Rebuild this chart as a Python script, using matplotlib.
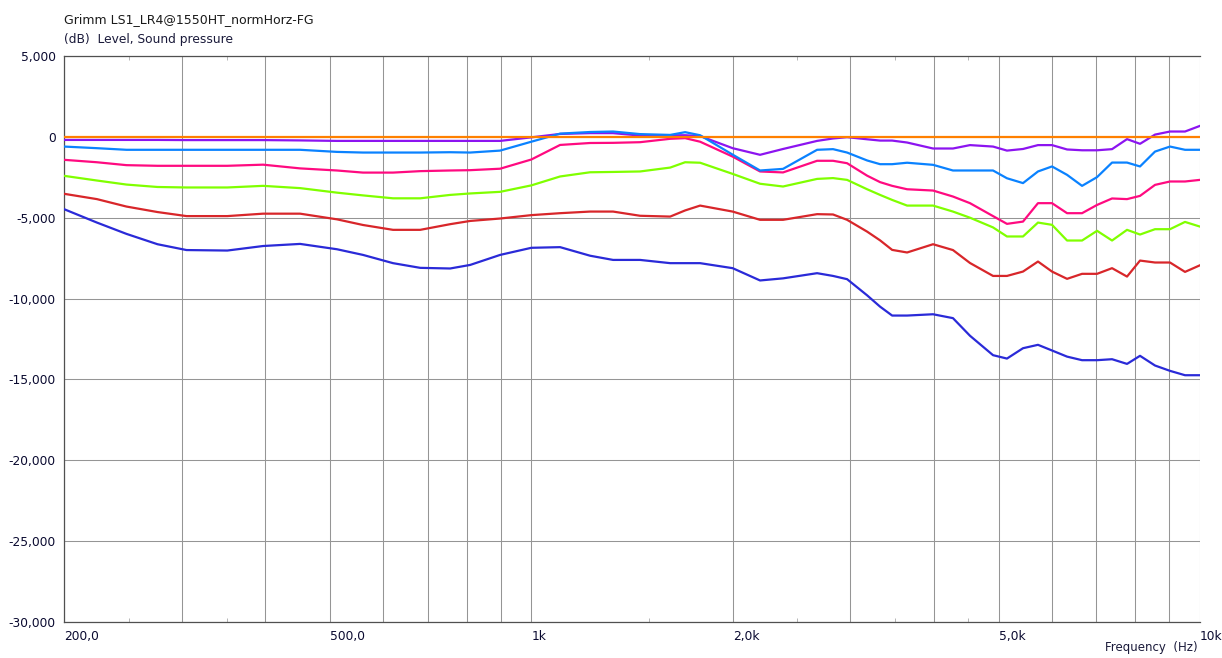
import numpy as np
import matplotlib
matplotlib.use("Agg")
import matplotlib.pyplot as plt
from matplotlib.ticker import FixedLocator, FuncFormatter, NullFormatter

# frequency grid (Hz)
freq = [200, 224, 248, 276, 305, 351, 397, 451, 512, 560,
        621, 682, 756, 810, 898, 1000, 1104, 1224, 1325, 1454,
        1613, 1698, 1788, 2000, 2198, 2379, 2675, 2826, 2966, 3178,
        3323, 3464, 3647, 3988, 4271, 4529, 4903, 5144, 5436, 5724,
        6007, 6327, 6662, 7015, 7387, 7778, 8134, 8565, 9019, 9497, 10000]

# levels in dB, one list per curve
orange = [0.0] * len(freq)
purple = [-0.19, -0.19, -0.19, -0.19, -0.2, -0.2, -0.2, -0.22, -0.25, -0.25,
          -0.25, -0.25, -0.25, -0.25, -0.25, -0.03, 0.18, 0.23, 0.23, 0.08,
          0.1, 0.1, 0.05, -0.7, -1.11, -0.75, -0.25, -0.1, -0.02, -0.15,
          -0.23, -0.23, -0.35, -0.72, -0.72, -0.51, -0.6, -0.85, -0.75, -0.51,
          -0.51, -0.78, -0.83, -0.83, -0.76, -0.14, -0.43, 0.14, 0.33, 0.33, 0.68]
lightblue = [-0.6, -0.7, -0.8, -0.8, -0.8, -0.8, -0.8, -0.8, -0.93, -0.97,
             -0.97, -0.97, -0.95, -0.97, -0.85, -0.3, 0.2, 0.3, 0.33, 0.17,
             0.12, 0.29, 0.1, -1.1, -2.08, -1.98, -0.8, -0.76, -0.97, -1.46,
             -1.69, -1.69, -1.6, -1.73, -2.08, -2.08, -2.08, -2.56, -2.86, -2.14,
             -1.83, -2.35, -3.03, -2.49, -1.59, -1.59, -1.83, -0.91, -0.6, -0.8, -0.8]
pink = [-1.42, -1.57, -1.75, -1.79, -1.79, -1.79, -1.72, -1.95, -2.08, -2.21,
        -2.21, -2.12, -2.08, -2.06, -1.97, -1.4, -0.5, -0.38, -0.37, -0.33,
        -0.12, -0.08, -0.3, -1.22, -2.14, -2.2, -1.48, -1.48, -1.63, -2.4,
        -2.8, -3.03, -3.24, -3.32, -3.69, -4.1, -4.9, -5.38, -5.24, -4.1,
        -4.1, -4.72, -4.72, -4.21, -3.81, -3.85, -3.65, -2.97, -2.76, -2.76, -2.66]
green = [-2.41, -2.7, -2.95, -3.1, -3.13, -3.13, -3.03, -3.17, -3.45, -3.62,
         -3.8, -3.8, -3.59, -3.5, -3.4, -3.0, -2.45, -2.19, -2.17, -2.14,
         -1.9, -1.57, -1.6, -2.29, -2.9, -3.07, -2.6, -2.55, -2.66, -3.24,
         -3.59, -3.9, -4.25, -4.25, -4.62, -5.0, -5.6, -6.16, -6.16, -5.3,
         -5.44, -6.41, -6.41, -5.81, -6.41, -5.75, -6.04, -5.71, -5.71, -5.26, -5.55]
red = [-3.52, -3.85, -4.31, -4.65, -4.9, -4.9, -4.75, -4.75, -5.1, -5.45,
       -5.75, -5.75, -5.4, -5.2, -5.05, -4.84, -4.72, -4.62, -4.62, -4.88,
       -4.93, -4.55, -4.25, -4.62, -5.13, -5.13, -4.78, -4.8, -5.13, -5.86,
       -6.4, -6.99, -7.15, -6.64, -7.0, -7.8, -8.6, -8.6, -8.33, -7.71,
       -8.33, -8.78, -8.47, -8.47, -8.12, -8.64, -7.65, -7.77, -7.77, -8.35, -7.94]
darkblue = [-4.47, -5.3, -6.0, -6.64, -7.0, -7.03, -6.75, -6.62, -6.95, -7.3,
            -7.81, -8.1, -8.14, -7.92, -7.3, -6.86, -6.82, -7.35, -7.61, -7.61,
            -7.81, -7.81, -7.81, -8.12, -8.88, -8.75, -8.43, -8.6, -8.8, -9.8,
            -10.5, -11.05, -11.05, -10.97, -11.21, -12.3, -13.5, -13.71, -13.07, -12.86,
            -13.21, -13.59, -13.81, -13.81, -13.75, -14.04, -13.54, -14.14, -14.47, -14.74, -14.74]

x_major = [200, 300, 400, 500, 600, 700, 800, 900, 1000,
           2000, 3000, 4000, 5000, 6000, 7000, 8000, 9000, 10000]
x_labels = {200: "200,0", 500: "500,0", 1000: "1k", 2000: "2,0k", 5000: "5,0k", 10000: "10k"}
x_minor = [250, 350, 1500, 2500, 3500, 4500]
y_ticks = [5, 0, -5, -10, -15, -20, -25, -30]

fig = plt.figure(figsize=(12.22, 6.58), dpi=100)
ax = fig.add_axes([64 / 1222, 1 - 622 / 658, 1136 / 1222, 566 / 658])

series = [(darkblue, "#2a2ad8"), (red, "#d8262a"), (green, "#80ff00"),
          (pink, "#ff0a80"), (purple, "#8c14f0"), (lightblue, "#0a82ff"),
          (orange, "#ff8000")]
for vals, col in series:
    ax.plot(freq, vals, color=col, linewidth=1.6, zorder=3)

ax.set_xscale("log")
ax.set_xlim(200, 10000)
ax.set_ylim(-30, 5)

ax.xaxis.set_major_locator(FixedLocator(x_major))
ax.xaxis.set_major_formatter(FuncFormatter(lambda v, p: x_labels.get(int(round(v)), "")))
ax.xaxis.set_minor_locator(FixedLocator(x_minor))
ax.xaxis.set_minor_formatter(NullFormatter())
ax.yaxis.set_major_locator(FixedLocator(y_ticks))


def ylab(v, p):
    if v == 0:
        return "0"
    return ("%.3f" % v).replace(".", ",")


ax.yaxis.set_major_formatter(FuncFormatter(ylab))

ax.grid(True, which="major", color="#959595", linewidth=0.75, zorder=1)
ax.tick_params(which="major", length=0, labelsize=8.8, labelcolor="#0a0a30", pad=6)
ax.tick_params(which="minor", direction="in", length=3, color="#aaaaaa",
               top=True, bottom=True)
for lab in ax.get_xticklabels():
    lab.set_horizontalalignment("left")

for s in ax.spines.values():
    s.set_color("#505050")
    s.set_linewidth(0.9)
ax.spines["right"].set_visible(False)

fig.text(64 / 1222, 1 - 20 / 658, "Grimm LS1_LR4@1550HT_normHorz-FG",
         fontsize=9, color="#1a1a1a", va="center", ha="left")
fig.text(64 / 1222, 1 - 39 / 658, "(dB)  Level, Sound pressure",
         fontsize=8.8, color="#1a1a3a", va="center", ha="left")
fig.text(1198 / 1222, 1 - 647 / 658, "Frequency  (Hz)",
         fontsize=8.5, color="#1a1a3a", va="center", ha="right")

fig.savefig("out.png", dpi=100)
